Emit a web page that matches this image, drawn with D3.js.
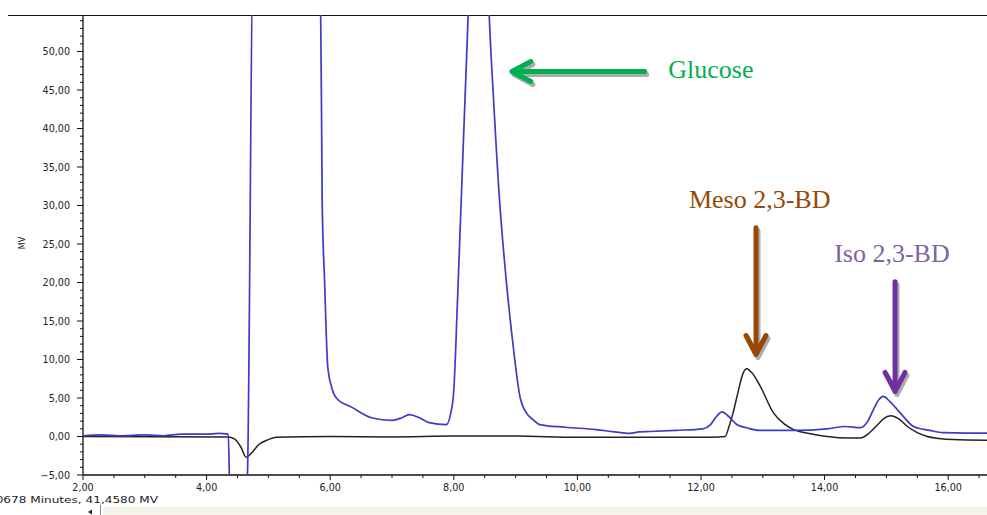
<!DOCTYPE html>
<html>
<head>
<meta charset="utf-8">
<script src="https://cdn.jsdelivr.net/npm/d3@7"></script>
<style>
  body { margin: 0; background: #fff; }
  svg { display: block; }
  .tick-lbl { font-family: "DejaVu Sans", Verdana, sans-serif; font-size: 9.6px; fill: #222; }
  .note { font-family: "Liberation Serif", "Times New Roman", serif; font-size: 26px; }
</style>
</head>
<body>
<div id="chart"></div>
<script>
// chromatogram traces (minutes, mV)
var blueTime = [2.0, 2.3, 2.6, 3.0, 3.3, 3.6, 4.0, 4.2, 4.35, 4.38, 4.62, 4.66, 4.75, 5.84, 5.87, 5.91, 5.96, 6.02, 6.1, 6.36,
    6.68, 7.0, 7.15, 7.28, 7.45, 7.6, 7.88, 7.95, 8.0, 8.06, 8.14, 8.22, 8.26, 8.53, 8.6, 8.74, 8.84, 8.95, 9.07, 9.18,
    9.28, 9.39, 9.8, 10.3, 10.6, 10.85, 11.0, 11.17, 11.6, 12.03, 12.15, 12.25, 12.34, 12.45, 12.58, 12.75, 12.95, 13.5, 14.04, 14.33,
    14.58, 14.7, 14.79, 14.88, 14.95, 15.05, 15.22, 15.44, 15.7, 15.92, 16.3, 16.65];
var blueMV = [0.1, 0.2, 0.1, 0.2, 0.1, 0.3, 0.3, 0.4, 0.3, -8, -8, -5, 60, 60, 30.7, 20, 9.1, 6.5, 5.0, 3.75,
    2.4, 2.1, 2.4, 2.85, 2.4, 1.8, 1.55, 3.0, 6, 17.7, 35, 52, 60, 60, 50, 30.7, 21, 12.5, 5.2, 3.0,
    2.2, 1.55, 1.2, 0.9, 0.6, 0.4, 0.6, 0.65, 0.8, 1.0, 1.5, 2.6, 3.2, 2.6, 1.55, 1.1, 0.8, 0.8, 1.0, 1.3,
    1.15, 2.0, 3.5, 4.8, 5.2, 4.6, 3.1, 1.3, 0.8, 0.5, 0.45, 0.45];

var blackTime = [2.0, 4.35, 4.45, 4.55, 4.64, 4.72, 4.85, 5.0, 5.13, 6.0, 7.0, 8.0, 9.0, 10.0, 11.0, 12.0, 12.3, 12.39, 12.45, 12.52,
    12.6, 12.68, 12.74, 12.82, 12.96, 13.17, 13.35, 13.5, 13.75, 14.04, 14.4, 14.58, 14.7, 14.86, 14.95, 15.07, 15.2, 15.34, 15.5, 15.66,
    15.85, 16.08, 16.65];
var blackMV = [0, -0.05, -0.3, -1.3, -2.7, -2.2, -1.0, -0.4, -0.1, 0, -0.05, 0.05, 0.05, -0.1, -0.1, -0.1, -0.05, 0, 1.2, 3.1,
    5.8, 8.2, 8.8, 8.3, 6.5, 3.1, 1.6, 0.9, 0.4, 0, -0.2, -0.2, 0.3, 1.55, 2.3, 2.7, 2.3, 1.3, 0.5, 0,
    -0.25, -0.4, -0.5];

// axis ticks
var xTicks = [2, 4, 6, 8, 10, 12, 14, 16];
var yTicks = [-5, 0, 5, 10, 15, 20, 25, 30, 35, 40, 45, 50];

// peak annotations: label, arrow tail / tip (minutes, mV), label anchor
var noteNames = ["Glucose", "Meso 2,3-BD", "Iso 2,3-BD"];
var noteTail = [[11.09, 47.4], [12.89, 27.1], [15.14, 20.1]];
var noteTip = [[8.94, 47.4], [12.89, 10.65], [15.14, 5.85]];
var noteText = [[11.47, 46.6], [12.95, 29.7], [15.09, 22.7]];

var W = 987, H = 515;
var pLeft = 83, pTop = 15, pRight = 987, pBottom = 475;

var svg = d3.select("#chart").append("svg")
    .attr("width", W)
    .attr("height", H);

var x = d3.scaleLinear().domain([2, 2 + (pRight - pLeft) / 61.8]).range([pLeft, pRight]);
var y = d3.scaleLinear().domain([-5, -5 + (pBottom - pTop) / 7.7]).range([pBottom, pTop]);

svg.append("defs").append("clipPath").attr("id", "plot")
    .append("rect")
    .attr("x", pLeft).attr("y", pTop)
    .attr("width", pRight - pLeft).attr("height", pBottom - pTop);

// top border
svg.append("line")
    .attr("x1", 8).attr("x2", W)
    .attr("y1", pTop + 0.5).attr("y2", pTop + 0.5)
    .attr("stroke", "#111").attr("stroke-width", 1);

// y axis: majors with labels, minors every 1 mV
var yAxis = svg.append("g").attr("transform", "translate(" + pLeft + ",0)");
yAxis.append("line").attr("y1", pTop).attr("y2", pBottom).attr("stroke", "#111").attr("stroke-width", 1.3);
d3.range(-5, 55, 1).forEach(function(v) {
    var major = v % 5 == 0;
    yAxis.append("line")
        .attr("x1", major ? -6 : -3).attr("x2", 0)
        .attr("y1", y(v)).attr("y2", y(v))
        .attr("stroke", "#111");
});
yAxis.selectAll(".ylbl")
    .data(yTicks)
    .enter()
    .append("text")
    .attr("class", "tick-lbl")
    .attr("x", -13)
    .attr("y", function(d) { return y(d) + 3.5; })
    .attr("text-anchor", "end")
    .text(function(d) { return d3.format(".2f")(d).replace(".", ","); });

svg.append("text")
    .attr("class", "tick-lbl")
    .attr("transform", "translate(25,243) rotate(-90)")
    .attr("text-anchor", "middle")
    .style("font-size", "8px")
    .text("MV");

// x axis: majors every 2 min, minors every 0.5
var xAxis = svg.append("g").attr("transform", "translate(0," + pBottom + ")");
xAxis.append("line").attr("x1", pLeft).attr("x2", pRight).attr("stroke", "#111").attr("stroke-width", 1.3);
d3.range(2, 16.75, 0.5).forEach(function(t) {
    var major = t % 2 == 0;
    xAxis.append("line")
        .attr("x1", x(t)).attr("x2", x(t))
        .attr("y1", 0).attr("y2", major ? 5 : 3)
        .attr("stroke", "#111");
});
xAxis.selectAll(".xlbl")
    .data(xTicks)
    .enter()
    .append("text")
    .attr("class", "tick-lbl")
    .attr("x", function(d) { return x(d); })
    .attr("y", 16)
    .attr("text-anchor", "middle")
    .text(function(d) { return d3.format(".2f")(d).replace(".", ","); });

// cursor readout (cut off at the left edge) + scroll bar
svg.append("text")
    .attr("class", "tick-lbl")
    .attr("transform", "translate(158,503) scale(1.26,1)")
    .attr("text-anchor", "end")
    .style("font-size", "9.6px")
    .text("9,0678 Minutes, 41,4580 MV");
svg.append("rect")
    .attr("x", 103).attr("y", 507).attr("width", W - 103).attr("height", 8)
    .attr("fill", "#f5f3ec");
svg.append("line")
    .attr("x1", 100.5).attr("x2", 100.5).attr("y1", 505).attr("y2", H)
    .attr("stroke", "#888");
svg.append("path")
    .attr("d", "M88,512L92,509.5L92,514.5Z")
    .attr("fill", "#222");

// traces
var line = d3.line()
    .x(function(d) { return x(d[0]); })
    .y(function(d) { return y(d[1]); })
    .curve(d3.curveMonotoneX);

var traces = svg.append("g").attr("clip-path", "url(#plot)");

traces.append("path")
    .datum(blackTime.map(function(t, i) { return [t, blackMV[i]]; }))
    .attr("d", line)
    .attr("fill", "none")
    .attr("stroke", "#222")
    .attr("stroke-width", 1.5);

traces.append("path")
    .datum(blueTime.map(function(t, i) { return [t, blueMV[i]]; }))
    .attr("d", line)
    .attr("fill", "none")
    .attr("stroke", "#3c3cc6")
    .attr("stroke-width", 1.7);

// annotation arrows
var arrowCol = ["#00b050", "#974806", "#7030a0"];
var textCol = ["#00b050", "#974806", "#8064a2"];
var textAnchor = ["start", "middle", "middle"];

function arrowPath(i) {
    var x0 = x(noteTail[i][0]), y0 = y(noteTail[i][1]);
    var x1 = x(noteTip[i][0]), y1 = y(noteTip[i][1]);
    var dx = x1 - x0, dy = y1 - y0, len = Math.sqrt(dx * dx + dy * dy);
    var ux = dx / len, uy = dy / len, a = 19, b = 10;
    return "M" + x0 + "," + y0 + "L" + x1 + "," + y1 +
        "M" + (x1 - ux * a - uy * b) + "," + (y1 - uy * a + ux * b) +
        "L" + x1 + "," + y1 +
        "L" + (x1 - ux * a + uy * b) + "," + (y1 - uy * a - ux * b);
}

noteNames.forEach(function(name, i) {
    // soft drop shadow
    svg.append("path")
        .attr("d", arrowPath(i))
        .attr("transform", "translate(2,3)")
        .attr("fill", "none")
        .attr("stroke", "#8a8a8a")
        .attr("stroke-opacity", 0.7)
        .attr("stroke-width", 5)
        .attr("stroke-linecap", "round")
        .attr("stroke-linejoin", "round");
    svg.append("path")
        .attr("d", arrowPath(i))
        .attr("fill", "none")
        .attr("stroke", arrowCol[i])
        .attr("stroke-width", 5)
        .attr("stroke-linecap", "round")
        .attr("stroke-linejoin", "round");
    svg.append("text")
        .attr("class", "note")
        .attr("x", x(noteText[i][0]))
        .attr("y", y(noteText[i][1]))
        .attr("text-anchor", textAnchor[i])
        .attr("fill", textCol[i])
        .text(name);
});
</script>
</body>
</html>
